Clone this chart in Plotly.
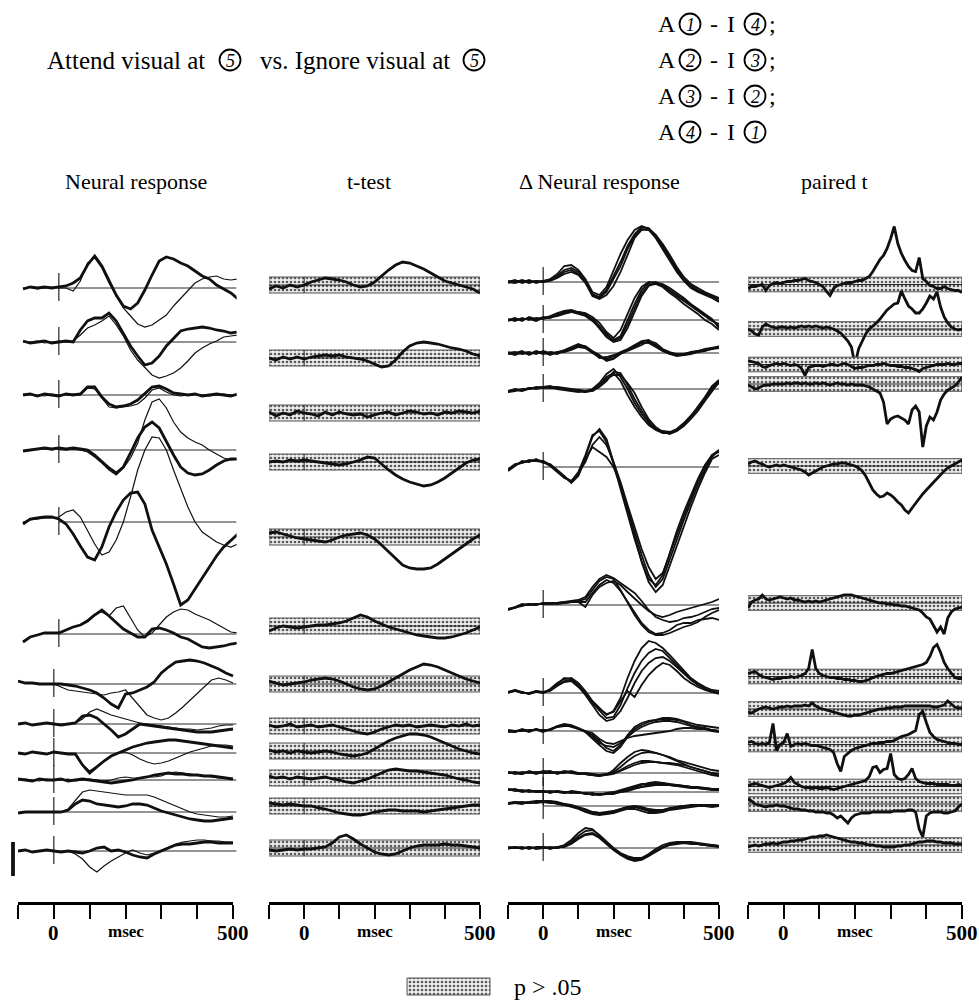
import plotly.graph_objects as go

W, H = 979, 1003
T20 = list(range(-100, 501, 20))
T10 = list(range(-100, 501, 10))

# ---------------- Panel 1: Neural response (thick = attend, thin = ignore) -------------
NR_THICK = [
    [-1,1,0,1,0,1,2,5,10,23,32,22,7,-7,-18,-21,-15,-2,13,27,31,29,25,22,17,12,9,3,-1,-5,-11],
    [1,-1,0,1,-1,0,1,0,12,21,24,24,29,21,9,-4,-14,-23,-21,-14,-4,4,11,13,14,15,14,12,11,9,10],
    [0,1,-1,1,0,-1,1,0,1,8,8,-2,-9,-12,-11,-9,-5,2,8,9,6,2,1,0,1,-1,0,1,0,-1,1],
    [-1,0,1,2,1,2,1,2,1,0,-5,-12,-18,-23,-17,-3,12,23,28,22,8,-5,-17,-23,-25,-24,-20,-15,-11,-9,-9],
    [-2,3,4,5,5,3,-2,-12,-24,-35,-38,-25,-5,10,22,29,30,18,-8,-25,-42,-62,-83,-78,-67,-56,-45,-34,-25,-18,-12],
    [-8,-3,-1,1,1,1,4,7,9,13,19,24,18,11,5,1,-3,-3,5,6,4,1,-3,-5,-9,-13,-14,-13,-12,-10,-9],
    [3,1,1,0,0,0,0,-1,-2,-4,-6,-9,-14,-20,-24,-10,-9,-6,-3,2,11,17,22,23,24,23,21,18,15,11,8],
    [0,1,-1,0,1,0,-1,0,1,8,9,6,0,-6,-13,-10,-5,0,-1,-2,-3,-4,-5,-6,-7,-8,-8,-8,-7,-6,-5],
    [0,-1,1,0,-1,1,0,-1,-1,-12,-20,-14,-8,-3,0,3,6,8,10,11,12,13,13,12,11,10,9,8,7,6,5],
    [1,0,-1,1,0,0,1,-1,0,1,0,-1,-2,-3,-2,-1,0,2,3,5,6,7,6,6,5,5,4,4,3,2,1],
    [-1,0,0,0,0,0,0,2,8,12,11,8,7,6,5,6,8,8,7,4,1,-1,-3,-5,-7,-8,-9,-9,-8,-7,-6],
    [0,1,-1,0,1,0,-1,0,-1,-2,0,3,4,0,1,-1,-4,-6,-7,-3,0,3,6,7,7,8,9,9,8,8,8],
]
NR_THIN = [
    [0,1,-1,0,1,0,0,-3,7,25,30,20,5,-8,-20,-28,-36,-39,-37,-32,-27,-18,-10,-2,5,9,11,12,9,8,9],
    [0,0,1,-1,0,1,0,1,7,14,17,21,26,17,6,-8,-18,-26,-33,-36,-34,-31,-26,-19,-11,-6,-2,1,5,6,7],
    [1,0,0,-1,1,0,0,1,0,7,6,-3,-12,-13,-12,-11,-9,-3,5,7,3,0,-1,0,1,0,-1,0,1,0,0],
    [-1,0,1,1,0,1,0,1,0,-2,-7,-13,-20,-25,-18,-8,7,30,48,51,42,28,18,12,8,5,0,-4,-8,-10,-9],
    [0,2,3,4,4,5,10,12,5,-8,-22,-33,-30,-18,0,25,52,72,85,84,72,52,33,15,0,-10,-15,-20,-23,-25,-22],
    [-8,-3,-1,1,1,1,4,7,9,14,20,22,18,26,28,16,4,-3,1,9,17,22,25,24,20,17,14,10,6,2,1],
    [3,1,1,0,0,0,-3,-6,-7,-8,-9,-10,-11,-9,-8,-6,-14,-23,-31,-34,-36,-34,-29,-23,-16,-9,-3,4,6,4,1],
    [0,1,-1,0,1,0,-1,0,1,5,12,15,12,9,7,5,3,1,0,-1,-2,-3,-4,-5,-5,-6,-5,-4,-2,-1,-1],
    [0,-1,1,0,-1,1,0,-1,-1,-12,-18,-13,-8,-3,0,1,-2,-6,-9,-11,-10,-8,-5,-2,1,3,5,7,8,8,7],
    [0,1,0,-1,1,0,0,1,-1,0,1,0,-1,0,2,3,2,2,3,3,4,7,8,7,6,5,4,3,2,2,1],
    [-1,0,0,0,0,0,0,3,12,20,22,21,20,19,18,17,17,17,17,15,12,9,6,3,0,-2,-3,-4,-5,-5,-4],
    [0,1,-1,0,1,0,-1,0,-3,-8,-16,-21,-15,-10,-6,-2,1,-2,-4,-2,1,4,7,9,10,11,11,10,10,9,9],
]

# ---------------- Panel 2: t-test --------------------------------------------------------
TT = [
    [-4,-1,-3,0,-2,0,3,5,7,6,5,3,0,-2,-1,3,9,15,20,23,22,19,16,12,8,4,2,0,-2,-4,-8],
    [0,-2,1,-1,1,-1,1,2,3,2,3,1,0,-1,-3,-6,-9,-8,-2,6,12,15,16,15,14,12,10,9,7,4,2],
    [1,-3,0,-2,2,0,-1,-3,1,-2,1,-1,-2,-1,-4,-2,0,1,-2,0,2,1,-1,0,-2,1,0,2,1,0,2],
    [0,1,0,2,1,2,1,0,-1,-2,-3,-2,0,2,5,4,-2,-8,-13,-17,-20,-22,-24,-23,-20,-16,-11,-6,-1,2,3],
    [4,5,3,1,-1,-2,-3,-4,-5,-3,0,2,3,4,2,-2,-8,-15,-22,-28,-31,-32,-32,-31,-27,-22,-17,-12,-7,-2,2],
    [-5,-2,0,-1,-2,-1,0,1,1,2,3,5,8,11,9,5,2,-1,-3,-5,-7,-9,-10,-11,-12,-12,-11,-9,-7,-4,-1],
    [3,1,-1,0,1,2,4,5,6,5,3,0,-3,-5,-6,-5,-2,2,6,10,14,17,20,19,17,14,11,8,5,3,1],
    [1,-1,0,2,-1,0,1,-1,0,1,-1,-3,-5,-7,-8,-6,-3,-1,1,0,1,-1,0,1,0,-1,1,0,2,0,1],
    [1,-1,0,-2,0,-1,-2,-1,0,-1,-3,-4,-5,-4,-2,2,6,10,13,15,17,17,16,14,11,8,5,2,0,-2,-3],
    [2,0,1,-1,1,0,-1,0,1,-1,-2,-4,-5,-3,-1,2,5,8,9,8,7,7,6,5,4,3,1,-1,-2,-4,-5],
    [3,2,1,2,1,0,0,-2,-3,-5,-7,-8,-9,-9,-8,-6,-5,-4,-4,-5,-5,-5,-6,-5,-4,-3,-2,-1,0,1,1],
    [-2,-3,-2,-1,-2,-1,-1,0,1,5,11,13,9,4,0,-4,-6,-7,-6,-3,0,2,3,3,3,4,3,3,2,1,0],
]

# ---------------- Panel 3: Delta neural response (4 pairings per row) -------------------
DNR = [
    [[0,2,-1,1,0,1,3,8,16,17,12,3,-10,-13,-5,12,28,42,52,56,53,45,35,24,12,2,-5,-9,-12,-15,-17],
     [1,0,2,0,1,0,2,6,12,14,10,2,-12,-15,-8,6,20,36,48,55,54,47,37,26,14,4,-3,-8,-11,-14,-19],
     [-1,1,0,2,-1,1,2,5,10,12,8,0,-14,-17,-13,-4,10,28,44,52,53,47,38,27,15,5,-2,-6,-10,-13,-16],
     [0,-1,1,-1,1,0,1,4,8,10,7,-1,-13,-16,-10,3,16,33,46,53,52,44,33,22,10,1,-6,-10,-13,-16,-20]],
    [[0,2,-1,3,1,2,4,7,9,10,8,7,3,-3,-12,-18,-10,6,22,33,38,37,34,29,24,19,14,9,4,-1,-4],
     [1,-1,2,0,2,1,3,6,8,9,7,5,1,-6,-15,-20,-16,0,16,30,37,38,35,30,25,20,15,10,5,0,-6],
     [-1,1,0,2,0,3,2,5,7,8,8,6,0,-8,-17,-22,-20,-8,8,24,34,37,36,32,27,22,16,11,6,1,-8],
     [0,0,1,1,-1,2,3,4,6,8,6,4,-1,-7,-14,-21,-18,-4,12,27,35,36,33,27,22,16,11,6,0,-4,-10]],
    [[0,-2,1,-1,2,0,-1,1,3,6,9,6,1,-3,-6,-3,1,4,8,12,13,8,3,0,-2,-1,0,2,3,5,6],
     [1,-1,0,1,-1,2,0,-1,2,5,7,5,0,-4,-7,-5,0,3,6,10,11,7,2,-1,-3,-2,0,1,3,4,5],
     [-1,0,2,-2,1,-1,1,0,2,4,8,7,2,-2,-8,-6,-1,2,5,8,12,10,4,1,-1,-2,-1,1,2,4,7],
     [0,1,-1,0,0,1,-2,1,1,3,6,5,1,-5,-4,-2,0,3,7,11,10,6,2,-1,-2,-1,1,2,4,5,6]],
    [[-3,-1,-2,0,1,2,3,1,0,-1,-2,-3,-1,4,12,16,8,-6,-18,-28,-36,-41,-44,-44,-42,-37,-30,-22,-12,-2,7],
     [-2,0,-1,1,0,1,2,2,1,0,-1,-2,-2,2,8,17,16,4,-10,-22,-32,-40,-43,-45,-42,-36,-28,-20,-10,0,6],
     [-3,-2,0,0,2,1,2,0,-1,-2,-3,-2,0,6,15,20,12,0,-14,-25,-34,-40,-42,-43,-40,-34,-27,-19,-9,1,8],
     [-2,-1,-1,1,1,2,1,1,0,-1,-1,-3,-2,3,10,14,14,6,-4,-18,-30,-38,-43,-44,-41,-35,-27,-18,-8,3,9]],
    [[-3,2,5,6,7,6,2,-4,-10,-15,-8,10,30,38,28,5,-18,-42,-65,-88,-108,-120,-112,-92,-72,-53,-35,-18,-3,10,17],
     [-2,3,4,7,6,5,1,-5,-11,-14,-6,5,22,30,22,5,-15,-38,-60,-82,-100,-112,-106,-88,-68,-49,-31,-14,0,12,17],
     [-4,1,6,5,8,4,3,-3,-9,-16,-9,8,20,15,10,0,-18,-44,-70,-95,-115,-125,-118,-98,-78,-58,-40,-22,-6,8,12],
     [-3,2,4,6,6,6,2,-4,-10,-14,-5,12,32,36,25,3,-22,-48,-72,-94,-112,-118,-108,-86,-64,-45,-28,-12,2,12,15]],
    [[-5,-3,0,1,0,2,1,2,3,4,5,8,18,26,30,27,22,17,12,4,-5,-12,-15,-17,-16,-13,-12,-10,-7,-4,-3],
     [-4,-2,1,0,1,1,2,1,2,3,4,6,15,24,28,26,15,2,-10,-20,-27,-30,-30,-28,-25,-22,-20,-17,-12,-8,-5],
     [-5,-2,-1,1,0,2,1,2,2,3,3,3,12,20,25,22,14,3,-8,-18,-25,-29,-28,-25,-20,-18,-18,-15,-14,-13,-15],
     [-4,-3,0,0,1,1,2,2,3,3,3,-2,10,18,22,24,20,13,6,0,-6,-10,-12,-10,-7,-5,-3,-1,1,3,6]],
    [[0,3,1,-1,2,0,4,10,14,15,10,2,-8,-15,-22,-18,-5,15,32,45,52,50,45,38,30,22,15,10,6,3,2],
     [1,2,0,0,1,1,3,8,12,13,8,0,-10,-18,-25,-24,-12,5,20,32,40,44,42,35,28,20,14,9,5,2,0],
     [0,2,1,-1,1,0,3,9,15,14,7,-2,-12,-22,-28,-26,-18,-5,10,22,30,35,36,32,26,19,13,8,4,1,-1],
     [1,3,0,0,2,1,2,7,11,12,6,-1,-9,-16,-21,-19,-8,2,-4,8,18,25,30,28,22,15,10,6,3,1,0]],
    [[0,-1,1,0,2,0,2,5,6,5,3,0,-4,-10,-17,-20,-14,-4,4,8,10,11,12,12,11,9,6,4,3,1,0],
     [1,0,0,1,1,1,1,4,5,5,2,-1,-6,-12,-15,-16,-12,-6,0,4,7,9,10,10,9,7,5,3,2,0,-1],
     [0,-1,2,0,1,-1,2,4,6,4,2,0,-2,-8,-12,-13,-10,-7,-5,-4,-3,-2,-1,0,2,3,3,2,2,1,0],
     [-1,0,1,-1,2,0,1,5,7,6,3,-1,-8,-14,-20,-22,-16,-6,2,6,9,11,13,13,12,10,8,6,5,4,3]],
    [[1,0,-1,2,0,2,1,0,2,1,0,-1,-2,-3,-2,3,10,16,21,23,22,20,18,16,13,11,9,7,5,3,2],
     [0,1,0,1,-1,1,2,-1,1,0,-1,0,-1,-2,-1,1,6,12,17,20,21,20,18,15,12,9,6,4,2,0,-1],
     [1,-1,1,0,1,0,0,1,0,2,0,-1,-2,-2,-2,-1,2,5,8,10,11,11,10,10,9,8,6,4,2,0,-3],
     [0,0,-1,1,0,1,1,0,1,1,-1,-1,-2,-3,-1,0,3,7,10,12,12,11,10,9,8,6,4,2,0,-2,-3]],
    [[3,2,1,2,0,1,0,1,-1,0,-1,-1,-2,-2,-2,-1,1,3,5,7,9,10,9,8,7,6,5,5,4,3,3],
     [2,3,1,1,1,0,1,0,0,-1,0,-2,-1,-3,-1,0,2,4,6,8,8,9,9,7,6,6,5,4,4,3,2],
     [3,1,2,0,1,1,-1,1,0,0,-1,-1,-3,-2,-2,-1,0,2,4,5,7,8,8,7,7,6,5,4,3,3,2],
     [2,2,0,1,0,0,0,0,-1,1,0,-2,-2,-3,-2,-2,0,1,3,5,6,7,7,7,6,5,4,4,3,2,2]],
    [[3,4,3,4,5,5,4,3,2,0,-2,-5,-7,-8,-8,-6,-4,-2,-1,-3,-5,-6,-5,-3,-2,-1,0,0,1,0,0],
     [2,3,4,3,4,5,5,4,2,1,-1,-3,-6,-7,-7,-5,-3,-1,0,-1,-3,-4,-4,-3,-1,0,1,1,0,1,0],
     [3,3,2,4,3,4,3,3,1,-1,-3,-6,-8,-9,-8,-7,-5,-3,-3,-5,-7,-7,-6,-4,-3,-2,-1,0,0,-1,0],
     [2,4,3,3,4,4,4,2,1,0,-2,-4,-6,-7,-6,-5,-3,-1,-1,-2,-4,-5,-4,-2,-1,0,0,1,1,1,1]],
    [[0,1,-1,1,0,1,0,1,3,8,15,20,19,12,5,-1,-6,-9,-11,-10,-6,-1,3,5,6,6,5,4,3,2,1],
     [1,0,0,1,-1,0,1,0,2,6,12,17,18,13,6,0,-5,-8,-10,-10,-7,-3,1,4,5,6,6,5,4,3,2],
     [0,0,1,-1,1,1,-1,1,1,4,9,13,14,10,4,-2,-7,-11,-13,-12,-8,-3,1,3,5,5,5,4,3,2,2],
     [-1,1,0,0,0,0,0,0,2,5,10,14,15,11,5,-1,-6,-10,-12,-11,-8,-4,0,3,4,5,4,4,3,3,2]],
]

# ---------------- Panel 4: paired t (10 ms samples) --------------------------------------
PT = [
    [-4,-2,-2,-1,0,-6,-1,1,2,1, 2,3,3,4,4,5,6,4,3,2, 0,-2,-7,-11,-4,-1,0,1,2,2,
     3,4,4,6,8,13,19,25,29,36, 46,58,41,31,24,18,14,13,27,6, 3,-1,-2,-4,-4,-2,-4,-5,-6,-6, -8],
    [0,-2,-5,-6,2,5,3,2,1,2, 2,1,2,1,2,3,2,3,2,3, 2,1,2,1,0,-2,-4,-8,-12,-18,
     -36,-20,-12,-5,0,3,6,10,15,19, 22,25,26,38,30,23,20,16,16,20, 26,33,30,37,22,12,6,2,0,-1, 0],
    [4,3,2,1,-2,-3,-1,0,1,0, 1,0,-1,0,-1,-4,-11,-3,-2,-1, -1,-2,-1,0,0,-1,0,1,0,-2,
     -4,-3,-3,-2,-1,-1,0,0,1,0, -1,-1,-2,-2,-3,-3,-4,-5,-7,-4, -3,-2,-1,0,0,0,1,0,0,1, 1],
    [-1,-3,-5,-4,-2,-1,-1,0,0,0, 0,1,0,1,1,0,1,0,0,1, 0,1,0,-1,0,1,0,0,-1,0,
     -1,-1,-1,-2,-3,-5,-7,-9,-18,-40, -35,-33,-32,-34,-36,-40,-26,-22,-28,-63, -42,-33,-36,-28,-16,-10,-6,-4,-2,2, 7],
    [2,4,5,3,2,0,-1,0,1,0, 1,0,-1,-2,-3,-4,-6,-9,-7,-5, -3,-1,0,1,2,2,3,3,2,1,
     0,-2,-5,-10,-17,-24,-28,-31,-30,-27, -29,-32,-36,-39,-44,-47,-42,-37,-33,-28, -24,-20,-16,-12,-8,-5,-2,0,2,4, 6],
    [-5,1,3,4,8,4,3,4,5,6, 5,4,5,3,3,2,1,2,1,2, 1,2,3,4,5,6,7,8,8,8,
     7,6,5,4,3,2,1,0,0,-1, -1,-2,-2,-3,-3,-4,-5,-6,-7,-10, -14,-16,-22,-29,-24,-31,-15,-9,-6,-5, -4],
    [3,4,5,2,0,-1,-2,-3,-2,-2, -1,-1,0,-1,0,1,3,8,27,8, 3,1,0,-1,-1,-2,-2,-3,-3,-4,
     -4,-5,-5,-4,-3,-1,0,1,2,3, 3,4,5,6,7,8,9,10,11,12, 14,20,29,32,24,14,8,3,-1,-2, -2],
    [-3,-4,-2,0,1,2,1,0,1,2, 2,3,2,3,3,3,4,3,6,3, 1,0,-1,-2,-3,-4,-5,-6,-7,-7,
     -6,-6,-5,-4,-3,-2,-1,0,0,1, 1,2,2,2,3,3,3,3,3,3, 3,3,2,2,3,4,8,5,2,1, 1],
    [2,3,1,0,1,0,2,21,-6,0, 2,11,-2,0,1,0,1,0,-1,-1, -2,-3,-4,-5,-8,-19,-27,-12,-9,-6,
     -4,-3,-2,-1,0,1,1,2,2,3, 3,4,6,8,9,10,12,14,30,33, 22,12,8,5,4,3,2,1,1,0, 0],
    [1,2,3,2,1,0,-1,0,1,2, 3,5,9,4,2,0,-1,-1,-2,-1, -2,-2,-1,-2,-3,-2,-1,0,1,2,
     3,4,5,6,10,19,20,14,17,18, 33,12,8,7,8,12,18,8,5,4, 3,3,3,2,2,2,2,1,1,2, 1],
    [5,3,0,-1,-2,-3,-2,-2,-1,-2, -2,-3,-4,-5,-5,-6,-6,-7,-7,-8, -8,-8,-9,-9,-11,-14,-12,-16,-19,-14,
     -11,-10,-9,-9,-9,-8,-8,-8,-8,-8, -8,-7,-7,-7,-7,-6,-6,-8,-25,-33, -12,-9,-8,-8,-8,-9,-9,-8,-7,-3, 0],
    [-2,-1,0,-1,0,1,1,2,1,2, 3,3,4,4,5,5,6,7,8,8, 9,9,10,9,8,7,6,5,4,3,
     3,2,2,1,0,0,-1,-1,-2,-2, -2,-2,-1,-1,0,0,1,2,3,3, 4,4,4,3,3,2,2,2,1,1, 1],
]

# ---------------- layout (row baselines in page pixels, panel pixel extents) -------------
NR_BASE = [288, 342, 395, 450, 522, 634, 684, 724, 753, 780, 812, 851]
NR_SHIFT = [14, 14, 14, 14, 14, 14, 0, 0, 0, 0, 0, 0]
TT_BASE = [285, 358, 413, 462, 537, 626, 684, 726, 751, 778, 806, 848]
DNR_BASE = [282, 320, 353, 389, 467, 605, 693, 731, 773, 792, 806, 848]
PT_BASE = [284.5, 329, 364.5, 384, 466, 603, 676.5, 709, 744.5, 786.5, 804, 845]
RULER_TICKS = [-100, 0, 100, 200, 300, 400, 500]

for rows, n in ((NR_THICK, 31), (NR_THIN, 31), (TT, 31), (PT, 61)):
    for r in rows:
        assert len(r) == n, (len(r), n)
for grp in DNR:
    for r in grp:
        assert len(r) == 31

INK = "#101010"
PAT = dict(shape=".", size=4, solidity=0.33, fgcolor="#5a5a5a", bgcolor="#ededed", fillmode="replace")

fig = go.Figure()


def line(xs, ys, xa, width, color=INK, **kw):
    fig.add_trace(go.Scatter(x=xs, y=ys, xaxis=xa, yaxis="y", mode="lines",
                             line=dict(color=color, width=width), hoverinfo="skip",
                             showlegend=False, **kw))


# Panel 1
for i in range(12):
    b, s = NR_BASE[i], NR_SHIFT[i]
    line([s, 510], [b, b], "x", 0.9)
    line([s, s], [b - 15, b + 13], "x", 1.1)
    xs = [t + s for t in T20]
    line(xs, [b - v for v in NR_THIN[i]], "x", 1.2)
    line(xs, [b - v for v in NR_THICK[i]], "x", 2.8)

# Panel 2
for i in range(12):
    c, h = TT_BASE[i], 8
    line([-100, 500, 500, -100, -100], [c - h, c - h, c + h, c + h, c - h], "x2", 1,
         color="#555", fill="toself", fillpattern=PAT)
    line([-100, 500], [c, c], "x2", 0.9)
    line([0, 0], [c - h, c + h], "x2", 0.9)
    line(T20, [c - v for v in TT[i]], "x2", 2.8)

# Panel 3
for i in range(12):
    b = DNR_BASE[i]
    line([0, 500], [b, b], "x3", 0.9)
    line([0, 0], [b - 15, b + 13], "x3", 1.1)
    for tr in DNR[i]:
        line(T20, [b - v for v in tr], "x3", 1.8)

# Panel 4
for i in range(12):
    c, h = PT_BASE[i], 7.3
    line([-100, 500, 500, -100, -100], [c - h, c - h, c + h, c + h, c - h], "x4", 1,
         color="#555", fill="toself", fillpattern=PAT)
    line([-100, 500], [c, c], "x4", 0.9)
    line(T10, [c - v for v in PT[i]], "x4", 2.8)

# legend swatch + scale bar on a pixel axis
line([407, 490, 490, 407, 407], [978, 978, 995, 995, 978], "x9", 1, color="#555",
     fill="toself", fillpattern=PAT)
line([13, 13], [842, 876], "x9", 3.8)

# dummy traces so ruler subplots exist
for k in range(5, 9):
    fig.add_trace(go.Scatter(x=[0], y=[0.5], xaxis=f"x{k}", yaxis="y2", mode="markers",
                             marker=dict(opacity=0), hoverinfo="skip", showlegend=False))

PANEL_DOM = [(18, 236.6), (269, 480), (508, 719), (748, 962)]
PANEL_RNG = [[-100, 510], [-100, 500], [-100, 500], [-100, 500]]
RULER_DOM = [(18, 233), (269, 480), (508, 719), (748, 962)]

lay = dict(width=W, height=H, margin=dict(l=0, r=0, t=0, b=0),
           paper_bgcolor="white", plot_bgcolor="rgba(0,0,0,0)", showlegend=False)
for k in range(4):
    key = "xaxis" if k == 0 else f"xaxis{k + 1}"
    d0, d1 = PANEL_DOM[k]
    lay[key] = dict(domain=[d0 / W, d1 / W], range=PANEL_RNG[k], visible=False,
                    anchor="y", fixedrange=True)
    r0, r1 = RULER_DOM[k]
    lay[f"xaxis{k + 5}"] = dict(domain=[r0 / W, r1 / W], range=[-100, 500], anchor="y2",
                                showline=True, linecolor="black", linewidth=2.5,
                                ticks="outside", ticklen=14, tickwidth=1.5, tickcolor="black",
                                tickvals=RULER_TICKS, showticklabels=False, showgrid=False,
                                zeroline=False, fixedrange=True)
lay["xaxis9"] = dict(domain=[0, 1], range=[0, W], visible=False, anchor="y", fixedrange=True)
lay["yaxis"] = dict(domain=[0, 1], range=[H, 0], visible=False, fixedrange=True)
lay["yaxis2"] = dict(domain=[1 - 902 / H, 1 - 860 / H], range=[0, 1], visible=False,
                     anchor="x5", fixedrange=True)
fig.update_layout(**lay)

SERIF = "Liberation Serif"


def text(s, x, y, size, xref="x9", xanchor="center"):
    fig.add_annotation(text=s, x=x, y=y, xref=xref, yref="y", xanchor=xanchor,
                       yanchor="middle", showarrow=False,
                       font=dict(family=SERIF, size=size, color="black"))


def circ(cx, cy, digit, r=10.5):
    fig.add_shape(type="circle", xref="x9", yref="y", x0=cx - r, x1=cx + r,
                  y0=cy - r, y1=cy + r, line=dict(color="black", width=1.8))
    text(f"<i>{digit}</i>", cx, cy + 0.5, 18)


# title
TITLE_Y = 60
text("Attend visual at", 45, TITLE_Y, 25, xanchor="left")
circ(230, TITLE_Y, "5")
text("vs. Ignore visual at", 258, TITLE_Y, 25, xanchor="left")
circ(474, TITLE_Y, "5")

# pairing list
PAIRS = [("1", "4", ";"), ("2", "3", ";"), ("3", "2", ";"), ("4", "1", "")]
for j, (a, b, end) in enumerate(PAIRS):
    yy = 24 + 36 * j
    text("A", 678, yy, 24, xanchor="right")
    circ(690, yy, a)
    text("-", 714, yy, 24)
    text("I", 731, yy, 24)
    circ(755, yy, b)
    if end:
        text(end, 767, yy, 24, xanchor="left")

# column headers
HEADERS = ["Neural response", "t-test", "\u0394 Neural response", "paired t"]
HEAD_X = [136, 369, 599, 834]
for s, x in zip(HEADERS, HEAD_X):
    text(s, x, 181, 22)

# ruler labels
for k in range(4):
    xr = f"x{k + 5}"
    text("<b>0</b>", 0, 933, 21, xref=xr)
    text("<b>msec</b>", 200, 931, 17, xref=xr)
    text("<b>500</b>", 500, 933, 21, xref=xr)

# legend text
text("p > .05", 512, 987, 24, xanchor="left")

fig.write_html("out.html")
